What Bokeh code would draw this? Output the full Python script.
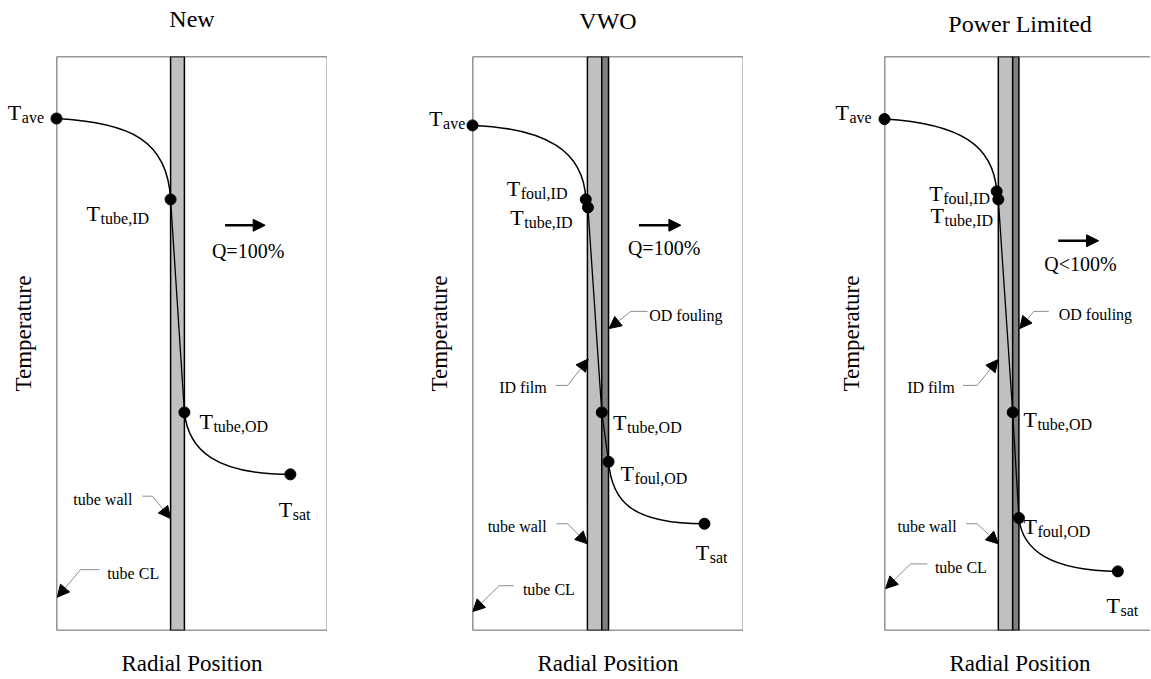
import math
from bokeh.plotting import figure
from bokeh.layouts import row
from bokeh.models import (ColumnDataSource, Range1d, Arrow, NormalHead, Span)
from bokeh.core.properties import value
from bokeh.embed import file_html
from bokeh.resources import INLINE

SERIF = "Liberation Serif"

# ---------------------------------------------------------------- data
PANEL_TITLES = ["New", "VWO", "Power Limited"]
X_LABEL = "Radial Position"
Y_LABEL = "Temperature"
HEAT_RATE = ["Q=100%", "Q=100%", "Q<100%"]

# radial position (0 = tube centre line, % of frame width) and
# temperature (% of frame height) of the labelled states
NEW_POINTS = ["ave", "tube,ID", "tube,OD", "sat"]
NEW_R = [0.0, 42.1, 47.2, 86.3]
NEW_T = [89.2, 75.1, 38.0, 27.2]

VWO_POINTS = ["ave", "foul,ID", "tube,ID", "tube,OD", "foul,OD", "sat"]
VWO_R = [0.0, 41.8, 42.6, 47.7, 50.2, 85.6]
VWO_T = [88.0, 75.1, 73.7, 38.0, 29.4, 18.6]

PL_POINTS = ["ave", "foul,ID", "tube,ID", "tube,OD", "foul,OD", "sat"]
PL_R = [0.0, 41.4, 42.0, 47.3, 49.6, 86.1]
PL_T = [89.1, 76.5, 75.1, 38.0, 19.6, 10.3]

# layers [inner, outer radial position]
NEW_WALL = [42.1, 47.2]
VWO_WALL = [42.4, 47.7]
VWO_FOUL = [47.7, 50.2]
PL_WALL = [42.0, 47.3]
PL_FOUL = [47.3, 49.6]

# bezier handles of the profile (cx0, cy0, cx1, cy1):
# bulk fluid -> inner surface, outer surface -> saturation
NEW_BULK_HANDLES = [27.3, 88.5, 41.0, 85.4]
NEW_SAT_HANDLES = [48.7, 31.4, 58.7, 27.2]
VWO_BULK_HANDLES = [27.0, 87.5, 41.1, 83.6]
VWO_SAT_HANDLES = [51.4, 22.6, 58.4, 18.6]
PL_BULK_HANDLES = [28.0, 88.3, 40.2, 84.5]
PL_SAT_HANDLES = [50.9, 13.9, 61.3, 10.5]

# ---------------------------------------------------------------- layout
FULL_W = 271
FRAME_H = 574

# label offsets (px) of the "T" relative to its point: (dx, dy), dy down
NEW_OFFS = [(-48.7, -6.3), (-84, 14), (15, 9), (-11.7, 35)]
VWO_OFFS = [(-43.4, -6.7), (-79, -10.7), (-77.7, 9.7), (11.3, 10), (12, 11.3), (-8.7, 28.4)]
PL_OFFS = [(-49, -6.7), (-67.4, 2.3), (-67.7, 16), (10.7, 7.3), (4.6, 9), (-11.3, 34)]

# callouts: text, text x, text y, align, leader start x, knee x, leader y, tip x, tip y
NEW_CALLOUTS = [
    ("tube wall", 28.0, 22.8, "right", 31.7, 35.4, 23.4, 42.1, 19.5),
    ("tube CL", 18.7, 9.9, "left", 15.9, 8.9, 10.6, 0.3, 5.8),
]
VWO_CALLOUTS = [
    ("tube CL", 18.6, 7.1, "left", 15.2, 9.8, 7.8, 0.1, 3.3),
    ("tube wall", 27.4, 18.2, "right", 31.0, 35.1, 18.6, 42.4, 15.1),
    ("ID film", 27.4, 42.4, "right", 30.7, 35.1, 42.7, 42.7, 47.3),
    ("OD fouling", 65.2, 54.9, "left", 64.6, 58.4, 55.6, 50.4, 52.6),
]
PL_CALLOUTS = [
    ("OD fouling", 64.3, 55.1, "left", 60.6, 55.1, 55.6, 49.9, 52.6),
    ("ID film", 25.9, 42.4, "right", 29.0, 34.2, 42.7, 41.9, 47.2),
    ("tube wall", 26.6, 18.2, "right", 30.1, 34.2, 18.6, 42.0, 15.1),
    ("tube CL", 18.6, 10.9, "left", 15.8, 9.6, 11.6, 0.4, 7.3),
]
# heat-flow arrow (x0, x1, y) and its label (x, y)
NEW_Q = (62.2, 77.0, 70.6, 70.7, 66.2)
VWO_Q = (61.4, 76.9, 70.6, 70.7, 66.6)
PL_Q = (64.1, 79.0, 67.9, 72.3, 63.9)
TITLE_DY = [-38, -36, -33]


def serif_text(p, x, y, txt, size, align="center", baseline="middle",
               angle=0.0, dx=0, dy=0):
    p.text(x=[x], y=[y], text=[txt], text_font=value(SERIF),
           text_font_size=size, text_color="black", text_align=align,
           text_baseline=baseline, angle=angle, x_offset=dx, y_offset=dy,
           level="overlay")


def build_panel(i, names, r, t, wall, foul, bulk_h, sat_h, offs, callouts, q,
                border_left, frame_w):
    x_end = 100.0 * frame_w / FULL_W
    p = figure(frame_width=frame_w, frame_height=FRAME_H,
               x_range=Range1d(0, x_end), y_range=Range1d(0, 100),
               min_border_left=border_left, min_border_right=0,
               min_border_top=56, min_border_bottom=48,
               x_axis_location=None, y_axis_location=None,
               output_backend="svg", toolbar_location=None)
    p.grid.visible = False
    p.outline_line_color = None
    p.background_fill_color = "white"
    p.border_fill_color = "white"

    # frame box
    for loc in (0, 100):
        p.add_layout(Span(location=loc, dimension="width",
                          line_color="#333333", line_width=1.6))
        p.add_layout(Span(location=loc, dimension="height",
                          line_color="#333333", line_width=1.6))

    # panel title and axis titles
    serif_text(p, 50, 100, PANEL_TITLES[i], "24px", dy=TITLE_DY[i])
    serif_text(p, 50, 0, X_LABEL, "23px", dy=33)
    serif_text(p, 0, 50, Y_LABEL, "23px", angle=math.pi / 2, dx=-33, dy=-10)

    # layers
    p.quad(left=[wall[0]], right=[wall[1]], bottom=[0], top=[100],
           fill_color="#c0c0c0", line_color="black", line_width=1.5)
    if foul is not None:
        p.quad(left=[foul[0]], right=[foul[1]], bottom=[0], top=[100],
               fill_color="#808080", line_color="black", line_width=1.5)

    # temperature profile
    p.bezier(x0=[r[0]], y0=[t[0]], x1=[r[1]], y1=[t[1]],
             cx0=[bulk_h[0]], cy0=[bulk_h[1]], cx1=[bulk_h[2]], cy1=[bulk_h[3]],
             line_color="black", line_width=1.5, level="overlay")
    p.line(r[1:-1], t[1:-1], line_color="black", line_width=1.3)
    p.bezier(x0=[r[-2]], y0=[t[-2]], x1=[r[-1]], y1=[t[-1]],
             cx0=[sat_h[0]], cy0=[sat_h[1]], cx1=[sat_h[2]], cy1=[sat_h[3]],
             line_color="black", line_width=1.5)
    p.scatter(r, t, size=11, color="black", level="overlay")

    src = ColumnDataSource(dict(
        x=r, y=t, big=["T"] * len(r), sub=names,
        dx=[o[0] for o in offs], dy=[o[1] for o in offs],
        sdx=[o[0] + 14 for o in offs], sdy=[o[1] + 5 for o in offs]))
    p.text(x="x", y="y", text="big", x_offset="dx", y_offset="dy", source=src,
           text_font=value(SERIF), text_font_size="22px", text_color="black",
           text_align="left", text_baseline="alphabetic", level="overlay")
    p.text(x="x", y="y", text="sub", x_offset="sdx", y_offset="sdy", source=src,
           text_font=value(SERIF), text_font_size="16px", text_color="black",
           text_align="left", text_baseline="alphabetic", level="overlay")

    # heat flow
    p.add_layout(Arrow(end=NormalHead(size=12, fill_color="black", line_color="black"),
                       x_start=q[0], y_start=q[2], x_end=q[1], y_end=q[2],
                       line_color="black", line_width=2.5))
    serif_text(p, q[3], q[4], HEAT_RATE[i], "20px")

    # callouts
    for (txt, tx, ty, al, sx, kx, ly, px, py) in callouts:
        serif_text(p, tx, ty, txt, "16px", align=al)
        p.segment(x0=[sx], y0=[ly], x1=[kx], y1=[ly], line_color="#8c8c8c",
                  line_width=1, level="overlay")
        p.add_layout(Arrow(end=NormalHead(size=12, fill_color="black",
                                          line_color="black", line_width=1),
                           x_start=kx, y_start=ly, x_end=px, y_end=py,
                           line_color="#8c8c8c", line_width=1))
    return p


p1 = build_panel(0, NEW_POINTS, NEW_R, NEW_T, NEW_WALL, None,
                 NEW_BULK_HANDLES, NEW_SAT_HANDLES, NEW_OFFS, NEW_CALLOUTS,
                 NEW_Q, 56, FULL_W)
p2 = build_panel(1, VWO_POINTS, VWO_R, VWO_T, VWO_WALL, VWO_FOUL,
                 VWO_BULK_HANDLES, VWO_SAT_HANDLES, VWO_OFFS, VWO_CALLOUTS,
                 VWO_Q, 145, FULL_W)
p3 = build_panel(2, PL_POINTS, PL_R, PL_T, PL_WALL, PL_FOUL,
                 PL_BULK_HANDLES, PL_SAT_HANDLES, PL_OFFS, PL_CALLOUTS,
                 PL_Q, 141, 266)

layout = row(p1, p2, p3)
open("out.html", "w").write(file_html(layout, INLINE))
